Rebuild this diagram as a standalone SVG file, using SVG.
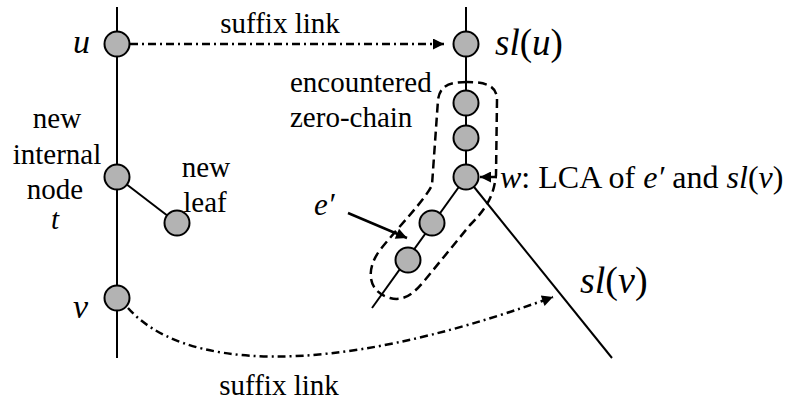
<svg xmlns="http://www.w3.org/2000/svg" width="790" height="404" viewBox="0 0 790 404">
<style>
.edge{stroke:#000;stroke-width:2;fill:none}
.node{fill:#b3b3b3;stroke:#000;stroke-width:2}
.link{stroke:#000;stroke-width:2.5;fill:none;stroke-dasharray:8 4 2 4}
.loop{stroke:#000;stroke-width:2.5;fill:none;stroke-dasharray:9 5}
.ptr{stroke:#000;stroke-width:2.5;fill:none}
text{font-family:'Liberation Serif','Liberation Sans',serif;fill:#000}
.lbl{font-size:29px}
.var{font-size:34px;font-style:italic}
.it{font-style:italic}
</style>
<defs>
<marker id="ah" viewBox="0 0 10 10" refX="10" refY="5" markerWidth="5.5" markerHeight="4.4" orient="auto" markerUnits="strokeWidth">
<path d="M0,0 L10,5 L0,10 Z" fill="#000"/>
</marker>
</defs>
<g id="connectors">
<line class="edge" x1="117" y1="7" x2="117" y2="358"/>
<line class="edge" x1="117" y1="177" x2="177" y2="223"/>
<line class="edge" x1="466" y1="7" x2="466" y2="177"/>
<line class="edge" x1="466" y1="177" x2="372" y2="308"/>
<line class="edge" x1="466" y1="177" x2="612" y2="358"/>
<path class="link" d="M130,44 L444,44" marker-end="url(#ah)"/>
<path class="link" d="M128,308 C180,367 320,382 553,297" marker-end="url(#ah)"/>
<path class="ptr" d="M348,213 L407,238" marker-end="url(#ah)"/>
<path class="ptr" d="M497,177 L480,177" marker-end="url(#ah)"/>
<path class="loop" d="M467,82 C450,82 440,85 438,100 L432,185 C425,200 400,225 380,250 C365,270 368,292 390,298 C405,302 415,292 425,280 L470,225 C490,205 494,192 496,175 L497,100 C497,88 490,82 467,82 Z"/>
</g>
<g id="node-u"><circle class="node" cx="117" cy="44" r="12.5"/><text class="var" x="73" y="53">u</text></g>
<g id="node-t"><circle class="node" cx="117" cy="177" r="12.5"/>
<text class="lbl" text-anchor="middle" x="57" y="128">new</text>
<text class="lbl" text-anchor="middle" x="57" y="164">internal</text>
<text class="lbl" text-anchor="middle" x="55" y="199">node</text>
<text class="lbl it" text-anchor="middle" x="55" y="229">t</text></g>
<g id="node-leaf"><circle class="node" cx="177" cy="223" r="12.5"/>
<text class="lbl" text-anchor="middle" x="206" y="177">new</text>
<text class="lbl" text-anchor="middle" x="205" y="212">leaf</text></g>
<g id="node-v"><circle class="node" cx="117" cy="298" r="12.5"/><text class="var" x="73" y="318">v</text></g>
<g id="node-slu"><circle class="node" cx="466" cy="44" r="12.5"/>
<text class="var" x="495" y="55" style="font-size:37px">sl<tspan font-style="normal">(</tspan>u<tspan font-style="normal">)</tspan></text></g>
<g id="node-z1"><circle class="node" cx="466" cy="103" r="12.5"/></g>
<g id="node-z2"><circle class="node" cx="466" cy="138" r="12.5"/></g>
<g id="node-w"><circle class="node" cx="466" cy="177" r="12.5"/>
<text class="lbl" x="500" y="188" style="font-size:32px"><tspan class="it">w</tspan>: LCA of <tspan class="it">e′</tspan> and <tspan class="it">sl</tspan>(<tspan class="it">v</tspan>)</text></g>
<g id="node-e1"><circle class="node" cx="432" cy="223" r="12.5"/></g>
<g id="node-e2"><circle class="node" cx="408" cy="260" r="12.5"/></g>
<g id="labels">
<text class="lbl" x="280" y="33" text-anchor="middle">suffix link</text>
<text class="lbl" x="279" y="395" text-anchor="middle">suffix link</text>
<text class="lbl" x="290" y="92">encountered</text>
<text class="lbl" x="290" y="127">zero-chain</text>
<text class="lbl it" x="314" y="215" style="font-size:31px">e′</text>
<text class="var" x="580" y="293" style="font-size:38px">sl<tspan font-style="normal">(</tspan>v<tspan font-style="normal">)</tspan></text>
</g>
</svg>
